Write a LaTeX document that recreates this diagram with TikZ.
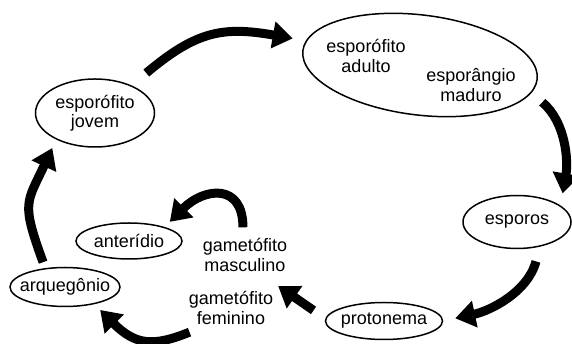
\documentclass[tikz,border=0pt]{standalone}
\usepackage{fontspec}
\setmainfont{Liberation Sans}
\usetikzlibrary{shapes.geometric,arrows.meta}
\begin{document}
\begin{tikzpicture}[x=1pt, y=1pt, font=\fontsize{18}{19.5}\selectfont,
  ell/.style={draw, ellipse, line width=1.5pt, inner xsep=-15pt, inner ysep=0pt, outer sep=0pt, align=center},
  txt/.style={align=center, inner sep=0pt},
  arr/.style={line width=9pt, -{Triangle[length=20pt, width=26pt]}}]
\useasboundingbox (0,0) rectangle (572,344);
\node[ell, minimum width=119pt, minimum height=68pt] (jov) at (95,231) {esporófito\\jovem};
\node[ell, rotate=-7, minimum width=236pt, minimum height=100pt] (adu) at (420,279) {};
\node[txt] (adl) at (366,288) {esporófito\\adulto};
\node[txt] (mad) at (471,259) {esporângio\\maduro};
\node[ell, minimum width=108pt, minimum height=53pt] (esp) at (517,122) {esporos};
\node[ell, minimum width=117pt, minimum height=37pt] (pro) at (384,23) {protonema};
\node[txt] (mas) at (245,89) {gametófito\\masculino};
\node[txt] (fem) at (231,36) {gametófito\\feminino};
\node[ell, minimum width=106pt, minimum height=36pt] (ant) at (129,103) {anterídio};
\node[ell, minimum width=110pt, minimum height=39pt] (arq) at (65,57) {arquegônio};
% ciclo
\draw[arr, shorten <=20pt, shorten >=14pt] (jov.37) to[out=40, in=170, looseness=1.2] (adu.175);
\draw[arr, shorten <=15pt, shorten >=13pt] (adu.-7) to[out=-40, in=80] (esp.20);
\draw[arr, shorten <=16pt, shorten >=13pt] (esp.-46) to[out=-105, in=12] (pro.0);
\draw[arr, shorten <=15pt, shorten >=25pt] (pro.178) -- (mas.-53);
\draw[arr, shorten <=20pt, shorten >=9pt] (fem.216) to[out=202, in=-45, looseness=1.3] (arq.-30);
\draw[arr, shorten <=11pt, shorten >=8pt] (mas.97) to[out=90, in=45, looseness=1.8] (ant.21);
\draw[arr, shorten <=7pt, shorten >=10pt] (arq.137) to[out=110, in=-115, looseness=1.4] (jov.214);
\end{tikzpicture}
\end{document}
